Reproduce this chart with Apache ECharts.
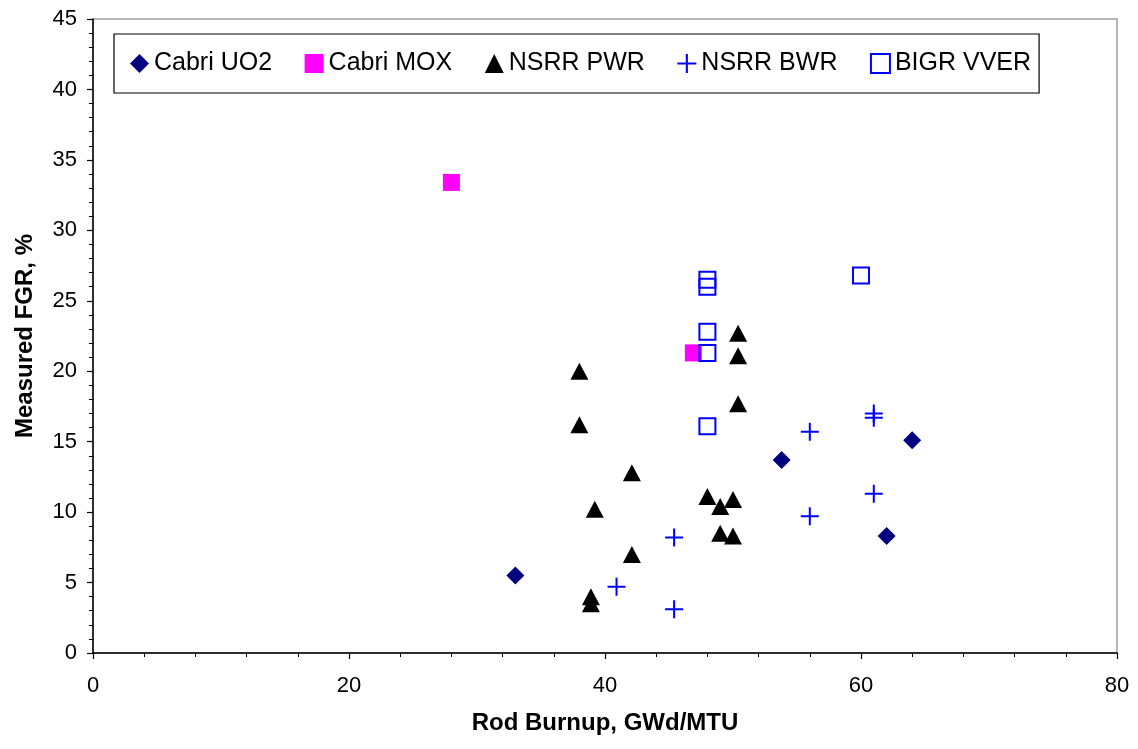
<!DOCTYPE html>
<html>
<head>
<meta charset="utf-8">
<script src="https://cdn.jsdelivr.net/npm/echarts@6/dist/echarts.min.js"></script>
<style>
  html, body { margin: 0; padding: 0; background: #fff; }
  #chart { width: 1138px; height: 749px; }
</style>
</head>
<body>
<div id="chart"></div>
<script>
// Fission gas release vs. rod burnup, [burnup GWd/MTU, FGR %]
const cabriUO2 = [[33, 5.5], [53.8, 13.7], [62, 8.3], [64, 15.1]];
const cabriMOX = [[28, 33.4], [46.9, 21.3]];
const nsrrPWR = [
  [38, 20.0], [38, 16.2], [50.4, 22.7], [50.4, 21.1], [50.4, 17.7],
  [42.1, 12.8], [39.2, 10.2], [42.1, 7.0], [38.9, 4.0], [38.9, 3.5],
  [48, 11.1], [49, 10.4], [50, 10.9], [49, 8.5], [50, 8.3]
];
const nsrrBWR = [
  [45.4, 8.2], [40.9, 4.7], [45.4, 3.1], [56, 15.7], [56, 9.7],
  [61, 17.0], [61, 16.7], [61, 11.3]
];
const bigrVVER = [[48, 26.5], [48, 26.0], [48, 22.8], [48, 21.3], [48, 16.1], [60, 26.8]];

const seriesNames = ['Cabri UO2', 'Cabri MOX', 'NSRR PWR', 'NSRR BWR', 'BIGR VVER'];
const xTitle = 'Rod Burnup, GWd/MTU';
const yTitle = 'Measured FGR, %';

const FONT = '"Liberation Sans", Arial, sans-serif';
const plusPath = 'path://M8,0h2v8h8v2h-8v8h-2v-8h-8v-2h8z';

const chart = echarts.init(document.getElementById('chart'), null, { renderer: 'canvas' });

function axisCommon(min, max, interval) {
  return {
    type: 'value',
    min: min, max: max, interval: interval,
    nameLocation: 'middle',
    nameTextStyle: { fontFamily: FONT, fontSize: 24, fontWeight: 'bold', color: '#000' },
    axisLine: { show: true, lineStyle: { color: '#000', width: 1.5 } },
    axisTick: { show: true, inside: false, length: 6, lineStyle: { color: '#000', width: 1.2 } },
    minorTick: { show: true, splitNumber: 5, length: 4, lineStyle: { color: '#000', width: 1 } },
    splitLine: { show: false },
    axisLabel: { fontFamily: FONT, fontSize: 22, color: '#000' }
  };
}

const xAxis = axisCommon(0, 80, 20);
xAxis.name = xTitle;
xAxis.nameGap = 58;
xAxis.axisLabel.margin = 22;

const yAxis = axisCommon(0, 45, 5);
yAxis.name = yTitle;
yAxis.nameGap = 56;
yAxis.nameRotate = 90;
yAxis.axisLabel.margin = 16;

const noEmph = { disabled: true };

chart.setOption({
  animation: false,
  backgroundColor: '#fff',
  grid: {
    left: 93, right: 21, top: 19, bottom: 96,
    show: true, borderColor: '#a0a0a0', borderWidth: 1.5, backgroundColor: 'transparent'
  },
  legend: {
    left: 114, top: 34,
    padding: [17, 8, 17, 16],
    itemGap: 32.5,
    itemWidth: 19, itemHeight: 19,
    borderColor: '#000', borderWidth: 1.2,
    backgroundColor: '#fff',
    textStyle: { fontFamily: FONT, fontSize: 25, color: '#000' },
    selectedMode: false,
    data: seriesNames
  },
  xAxis: xAxis,
  yAxis: yAxis,
  series: [
    {
      name: seriesNames[0], type: 'scatter', data: cabriUO2,
      symbol: 'diamond', symbolSize: 18,
      itemStyle: { color: '#000080', opacity: 1 }, emphasis: noEmph
    },
    {
      name: seriesNames[1], type: 'scatter', data: cabriMOX,
      symbol: 'rect', symbolSize: 17,
      itemStyle: { color: '#ff00ff', opacity: 1 }, emphasis: noEmph
    },
    {
      name: seriesNames[2], type: 'scatter', data: nsrrPWR,
      symbol: 'triangle', symbolSize: [18, 17],
      itemStyle: { color: '#000000', opacity: 1 }, emphasis: noEmph
    },
    {
      name: seriesNames[3], type: 'scatter', data: nsrrBWR,
      symbol: plusPath, symbolSize: 18,
      itemStyle: { color: '#0000ff', opacity: 1 }, emphasis: noEmph
    },
    {
      name: seriesNames[4], type: 'scatter', data: bigrVVER,
      symbol: 'rect', symbolSize: 16,
      itemStyle: { color: 'rgba(255,255,255,0)', borderColor: '#0000ff', borderWidth: 2, opacity: 1 },
      emphasis: noEmph
    }
  ]
});
</script>
</body>
</html>
